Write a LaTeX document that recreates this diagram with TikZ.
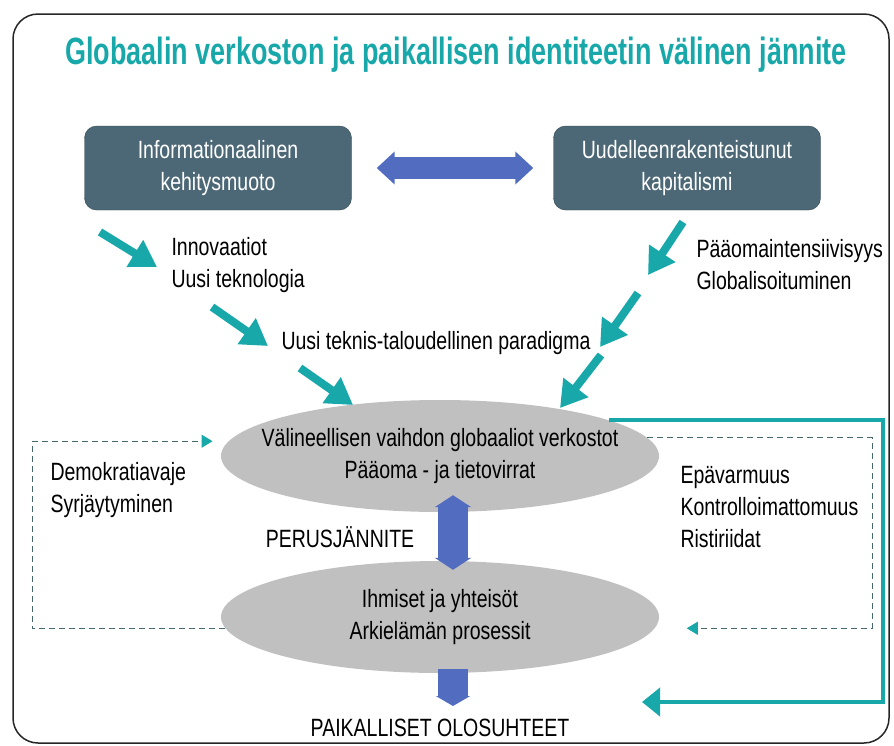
\documentclass[tikz,border=0pt]{standalone}
\usepackage{fontspec}
\setmainfont{Liberation Sans}[FakeStretch=0.78]
\newfontfamily\titrefont{Liberation Sans}[FakeStretch=0.71]
\usetikzlibrary{arrows.meta,shapes.geometric}

\definecolor{turquoise}{RGB}{24,168,170}
\definecolor{ardoise}{RGB}{76,104,118}
\definecolor{bleuflux}{RGB}{82,108,192}
\definecolor{grisovale}{RGB}{192,192,192}
\definecolor{pointille}{RGB}{70,105,110}

\newcommand\textecorps{\fontsize{25}{32}\selectfont}

\tikzset{
  boite/.style={draw=ardoise!70!black, fill=ardoise, rounded corners=12pt,
    minimum width=267pt, minimum height=84pt, align=center, text=white, font=\textecorps},
  ovale/.style={ellipse, fill=grisovale, minimum width=438pt, minimum height=112pt,
    inner sep=0pt},
  texteovale/.style={align=center, font=\textecorps},
  etiquette/.style={align=left, anchor=west, font=\textecorps},
  fleche/.style={turquoise, line width=8pt, -{Triangle[width=30pt,length=26pt]}},
  double/.style={bleuflux, line width=22pt,
    {Triangle[width=32pt,length=18pt]}-{Triangle[width=32pt,length=18pt]}},
  montee/.style={bleuflux, line width=30pt,
    {Triangle[width=36pt,length=12pt]}-{Triangle[width=36pt,length=12pt]}},
  descente/.style={bleuflux, line width=30pt, -{Triangle[width=34pt,length=10pt]}},
  retour/.style={pointille, line width=1pt, dash pattern=on 6pt off 4pt,
    -{Triangle[width=13pt,length=11pt,color=turquoise]}},
  paluu/.style={turquoise, line width=4pt, -{Triangle[width=28pt,length=18pt]}},
}

\begin{document}
\begin{tikzpicture}[x=1pt,y=-1pt]
\useasboundingbox (0,0) rectangle (894,745);

% Cadre et titre
\draw[line width=1.5pt, black!85, rounded corners=25pt] (13,14) rectangle (889,743);
\node (titre) at (456,55) {\titrefont\bfseries\fontsize{38}{42}\selectfont\color{turquoise}
  Globaalin verkoston ja paikallisen identiteetin välinen jännite};

% Les deux boites du haut
\node[boite] (info) at (218,168) {Informationaalinen\\kehitysmuoto};
\node[boite] (kapit) at (687,168) {Uudelleenrakenteistunut\\kapitalismi};
\draw[double] ([xshift=25pt]info.east) -- ([xshift=-20pt]kapit.west);

% Etiquettes
\node[etiquette] (innov) at (168,265) {Innovaatiot\\Uusi teknologia};
\node[etiquette] (paaoma) at (693,265) {Pääomaintensiivisyys\\Globalisoituminen};
\node[font=\textecorps] (paradigma) at (436,343) {Uusi teknis-taloudellinen paradigma};
\node[etiquette] (demo) at (47,490) {Demokratiavaje\\Syrjäytyminen};
\node[etiquette] (epav) at (677,507) {Epävarmuus\\Kontrolloimattomuus\\Ristiriidat};

% Ovales
\node[ovale, label={[texteovale]center:Välineellisen vaihdon globaaliot verkostot\\Pääoma - ja tietovirrat}]
  (vaihto) at (440,456) {};
\node[ovale, label={[texteovale]center:Ihmiset ja yhteisöt\\Arkielämän prosessit}]
  (ihmiset) at (440,617) {};
\node[font=\textecorps] (perus) at (340,537) {PERUSJÄNNITE};
\node[font=\textecorps] (paikalliset) at (440,728) {PAIKALLISET OLOSUHTEET};

% Fleches turquoise
\foreach \n/\x/\y in {a1/100/232, b1/157/267, a2/212/307, b2/268/346, a3/300/368, b3/353/405,
                      a4/683/222, b4/648/275, a5/638/293, b5/600/347, a6/601/355, b6/560/408}
  \coordinate (\n) at (\x,\y);
\foreach \i in {1,...,6}
  \draw[fleche] (a\i) -- (b\i);

% Fleches bleues
\coordinate (alas) at (453,706);
\draw[montee] ([xshift=13pt,yshift=17pt]vaihto.south) -- ([xshift=13pt,yshift=-9pt]ihmiset.north);
\draw[descente] ([xshift=13pt,yshift=4pt]ihmiset.south) -- (alas);

% Boucles
\coordinate (vasen) at (32,0);
\coordinate (oikea) at (872,0);
\coordinate (reuna) at (883,0);
\coordinate (pohja) at (642,702);
\draw[retour] (ihmiset.183.5) -- (ihmiset.183.5 -| vasen) -- (vasen |- vaihto.176)
  -- ([xshift=-16pt]vaihto.176);
\draw[retour] (vaihto.5.3) -- (vaihto.5.3 -| oikea) -- (oikea |- ihmiset.-3.5)
  -- ([xshift=32pt]ihmiset.-3.5);
\draw[paluu] (vaihto.12.1) -- (vaihto.12.1 -| reuna) -- (reuna |- pohja) -- (pohja);
\end{tikzpicture}
\end{document}
